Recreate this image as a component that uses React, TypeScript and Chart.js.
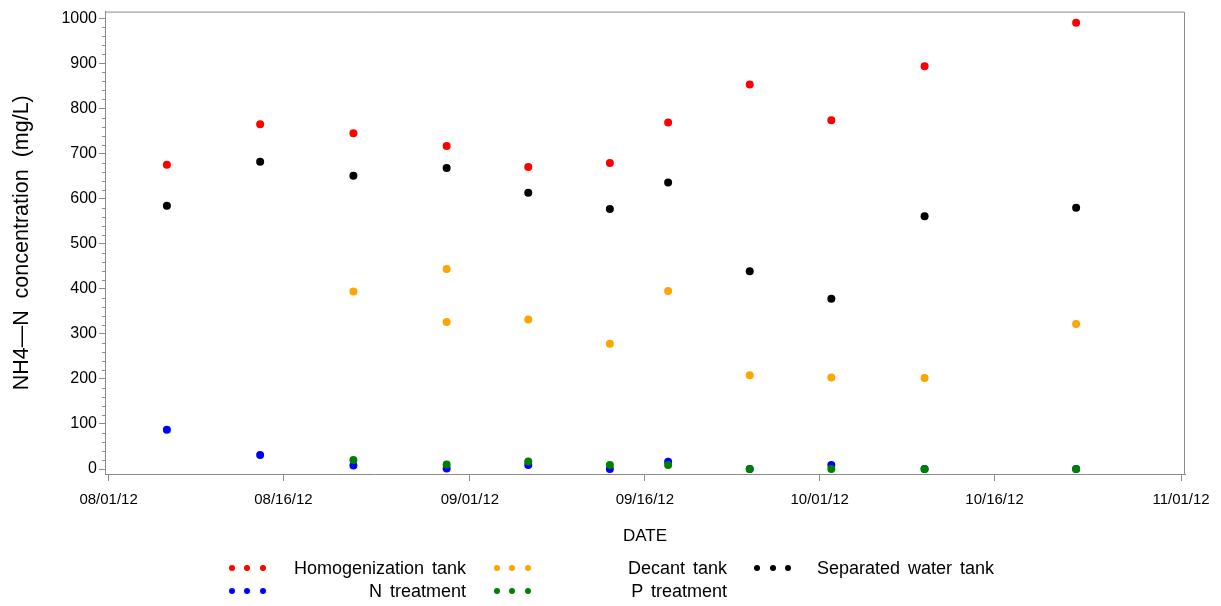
import React, { useEffect, useRef } from 'react';
import { Chart, registerables } from 'chart.js';

Chart.register(...registerables);

// ---------------- data ----------------
const sampleDates = [
  '2012-08-06', '2012-08-14', '2012-08-22', '2012-08-30', '2012-09-06', '2012-09-13',
  '2012-09-18', '2012-09-25', '2012-10-02', '2012-10-10', '2012-10-23',
];
const homogenizationTank = [675, 765, 745, 717, 670, 679, 769, 853, 774, 894, 990];
const separatedWaterTank = [584, 682, 651, 668, 613, 577, 636, 439, 378, 561, 580];
const nTreatment = [87, 31, 8, 1, 9, 0, 16, 0, 9, 0, 0];
const pTreatment = [null, null, 20, 10, 17, 9, 9, 0, 0, 0, 0];

const decantDates = [
  '2012-08-22', '2012-08-30', '2012-08-30', '2012-09-06', '2012-09-13',
  '2012-09-18', '2012-09-25', '2012-10-02', '2012-10-10', '2012-10-23',
];
const decantTank = [394, 444, 326, 332, 278, 395, 208, 203, 202, 322];

const xTickDates = ['2012-08-01', '2012-08-16', '2012-09-01', '2012-09-16', '2012-10-01', '2012-10-16', '2012-11-01'];
const xTickLabels = ['08/01/12', '08/16/12', '09/01/12', '09/16/12', '10/01/12', '10/16/12', '11/01/12'];
const yTicks = [0, 100, 200, 300, 400, 500, 600, 700, 800, 900, 1000];
const yMinorTicks = [
  20, 40, 60, 80, 120, 140, 160, 180, 220, 240, 260, 280, 320, 340, 360, 380,
  420, 440, 460, 480, 520, 540, 560, 580, 620, 640, 660, 680, 720, 740, 760, 780,
  820, 840, 860, 880, 920, 940, 960, 980,
];

const seriesNames = ['Homogenization tank', 'Decant tank', 'Separated water tank', 'N treatment', 'P treatment'];

// ---------------- styles ----------------
const FONT = '"Liberation Sans", Arial, Helvetica, sans-serif';
const GREY = '#8c8c8c';
const COLORS = ['#ff0000', '#ffa500', '#000000', '#0000ff', '#008000'];

const DAY0 = Date.parse('2012-08-01');
const toDay = (s: string) => (Date.parse(s) - DAY0) / 86400000;

const toPoints = (dates: string[], values: (number | null)[]) =>
  dates
    .map((d, i) => ({ x: toDay(d), y: values[i] }))
    .filter((p) => p.y !== null) as { x: number; y: number }[];

const framePlugin = {
  id: 'frameAndMinorTicks',
  beforeDatasetsDraw(chart: any) {
    const { ctx, chartArea: a, scales } = chart;
    const y = scales.y;
    ctx.save();
    ctx.strokeStyle = GREY;
    ctx.lineWidth = 1;
    ctx.beginPath();
    ctx.moveTo(a.left, a.top + 0.5);
    ctx.lineTo(a.right - 0.5, a.top + 0.5);
    ctx.lineTo(a.right - 0.5, a.bottom);
    ctx.stroke();
    yMinorTicks.forEach((v) => {
      const py = Math.round(y.getPixelForValue(v)) + 0.5;
      ctx.beginPath();
      ctx.moveTo(a.left - 3, py);
      ctx.lineTo(a.left, py);
      ctx.stroke();
    });
    ctx.restore();
  },
};

const legendItems = [
  { name: seriesNames[0], color: COLORS[0], dotsX: 231.5, textRight: 466, row: 0 },
  { name: seriesNames[3], color: COLORS[3], dotsX: 231.5, textRight: 466, row: 1 },
  { name: seriesNames[1], color: COLORS[1], dotsX: 496.5, textRight: 727, row: 0 },
  { name: seriesNames[4], color: COLORS[4], dotsX: 496.5, textRight: 727, row: 1 },
  { name: seriesNames[2], color: COLORS[2], dotsX: 757, textRight: 994, row: 0 },
];
const rowY = [568, 591];

export default function App() {
  const canvasRef = useRef<HTMLCanvasElement | null>(null);

  useEffect(() => {
    const canvas = canvasRef.current;
    if (!canvas) return;
    const pointStyle = (color: string) => ({
      backgroundColor: color,
      borderColor: color,
      borderWidth: 0,
      pointRadius: 4,
      pointHoverRadius: 4,
      showLine: false,
    });
    const chart = new Chart(canvas, {
      type: 'scatter',
      data: {
        datasets: [
          { label: seriesNames[0], data: toPoints(sampleDates, homogenizationTank), ...pointStyle(COLORS[0]) },
          { label: seriesNames[1], data: toPoints(decantDates, decantTank), ...pointStyle(COLORS[1]) },
          { label: seriesNames[2], data: toPoints(sampleDates, separatedWaterTank), ...pointStyle(COLORS[2]) },
          { label: seriesNames[3], data: toPoints(sampleDates, nTreatment), ...pointStyle(COLORS[3]) },
          { label: seriesNames[4], data: toPoints(sampleDates, pTreatment), ...pointStyle(COLORS[4]), order: -1 },
        ],
      },
      options: {
        animation: false,
        responsive: false,
        devicePixelRatio: 1,
        layout: { padding: { left: 0, right: 36, top: 8, bottom: 52 } },
        plugins: {
          legend: { display: false },
          tooltip: { enabled: false },
        },
        scales: {
          x: {
            type: 'linear',
            min: -0.31,
            max: 92.34,
            afterBuildTicks: (s: any) => {
              s.ticks = xTickDates.map((d) => ({ value: toDay(d) }));
            },
            afterFit: (s: any) => {
              s.height = 80;
            },
            ticks: {
              autoSkip: false,
              maxRotation: 0,
              padding: 10,
              color: '#000',
              font: { family: FONT, size: 15 },
              callback: (v: any) => {
                const i = xTickDates.findIndex((d) => toDay(d) === v);
                return i >= 0 ? xTickLabels[i] : '';
              },
            },
            grid: { drawOnChartArea: false, drawTicks: true, tickLength: 7, color: GREY },
            border: { display: true, color: GREY, width: 1 },
            title: {
              display: true,
              text: 'DATE',
              color: '#000',
              font: { family: FONT, size: 17 },
              padding: { top: 0, bottom: 7 },
            },
          },
          y: {
            type: 'linear',
            min: -11,
            max: 1015,
            afterBuildTicks: (s: any) => {
              s.ticks = yTicks.map((v) => ({ value: v }));
            },
            afterFit: (s: any) => {
              s.width = 105;
            },
            ticks: {
              padding: 2,
              color: '#000',
              font: { family: FONT, size: 16 },
              callback: (v: any) => String(v),
            },
            grid: { drawOnChartArea: false, drawTicks: true, tickLength: 6, color: GREY },
            border: { display: true, color: GREY, width: 1 },
            title: {
              display: true,
              text: 'NH4\u2014N  concentration  (mg/L)',
              color: '#000',
              font: { family: FONT, size: 21.5 },
              padding: { top: 9, bottom: 0 },
            },
          },
        },
      },
      plugins: [framePlugin],
    } as any);
    return () => chart.destroy();
  }, []);

  return (
    <div style={{ position: 'absolute', left: 0, top: 0, width: 1221, height: 606, background: '#fff', overflow: 'hidden' }}>
      <canvas ref={canvasRef} width={1221} height={606} style={{ display: 'block' }} />
      {legendItems.map((it) => (
        <React.Fragment key={it.name}>
          {[0, 1, 2].map((k) => (
            <div
              key={k}
              style={{
                position: 'absolute',
                left: it.dotsX + k * 15.5 - 3,
                top: rowY[it.row] - 3,
                width: 6,
                height: 6,
                borderRadius: '50%',
                background: it.color,
              }}
            />
          ))}
          <div
            style={{
              position: 'absolute',
              right: 1221 - it.textRight,
              top: rowY[it.row] - 11,
              height: 22,
              lineHeight: '22px',
              fontFamily: FONT,
              fontSize: 18,
              color: '#000',
              whiteSpace: 'nowrap',
              wordSpacing: 3,
            }}
          >
            {it.name}
          </div>
        </React.Fragment>
      ))}
    </div>
  );
}
